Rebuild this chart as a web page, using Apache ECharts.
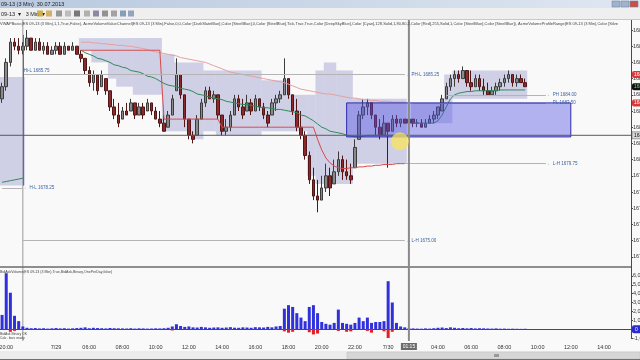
<!DOCTYPE html>
<html><head><meta charset="utf-8">
<script src="https://cdn.jsdelivr.net/npm/echarts@6/dist/echarts.min.js"></script>
<style>html,body{margin:0;padding:0;background:#f9f9f9}#c{width:640px;height:360px}</style>
</head><body><div id="c"></div><script>
const FF = 'Liberation Sans, Arial, sans-serif';
const nBars = 152;
// x-axis tick labels (bar index -> text)
const tickIdx  = [1, 13, 21, 29, 37, 45, 53, 61, 69, 77, 85, 93, 105, 113, 121, 129, 137, 145];
const tickText = ['20:00','7/29','06:00','08:00','10:00','12:00','14:00','16:00','18:00','20:00','22:00','7/30','04:00','06:00','08:00','10:00','12:00','14:00'];
// OHLC candles: [open, close, low, high]
const candles = [
[1683.75,1684.5,1683.5,1684.75],[1684.5,1686.0,1684.25,1686.25],[1686.0,1687.25,1685.75,1687.5],[1687.25,1687.0,1686.75,1687.5],
[1687.0,1686.75,1686.5,1687.5],[1686.75,1687.0,1686.5,1687.25],[1687.0,1687.5,1686.75,1688.0],[1687.5,1686.75,1686.75,1687.5],
[1686.75,1687.25,1686.75,1687.5],[1687.25,1686.75,1686.75,1687.5],[1686.75,1687.0,1686.5,1687.25],[1687.0,1686.5,1686.5,1687.25],
[1686.5,1686.75,1686.5,1687.0],[1686.75,1687.0,1686.5,1687.25],[1687.0,1686.5,1686.5,1687.25],[1686.5,1687.0,1686.5,1687.25],
[1687.0,1686.75,1686.75,1687.0],[1686.75,1687.0,1686.75,1687.25],[1687.0,1686.5,1686.5,1687.0],[1686.5,1686.25,1686.0,1686.75],
[1686.25,1685.5,1685.25,1686.25],[1685.5,1684.75,1684.5,1685.75],[1684.75,1685.25,1684.25,1685.5],[1685.25,1684.25,1684.0,1685.25],
[1684.5,1685.25,1684.5,1685.5],[1685.0,1684.25,1684.0,1685.0],[1684.25,1683.25,1683.0,1684.25],[1683.25,1682.75,1682.5,1683.75],
[1682.75,1682.25,1682.0,1683.5],[1682.5,1683.0,1682.5,1683.25],[1683.0,1682.75,1682.75,1683.5],[1683.0,1683.5,1683.0,1683.75],
[1683.5,1682.75,1682.5,1683.5],[1682.75,1683.25,1682.75,1683.5],[1683.25,1682.75,1682.5,1683.5],[1683.0,1683.5,1683.0,1683.75],
[1683.5,1683.0,1682.75,1683.5],[1683.0,1682.5,1682.5,1683.25],[1682.5,1682.25,1682.0,1683.0],[1682.25,1681.75,1681.75,1682.75],
[1682.0,1682.75,1682.0,1683.0],[1682.75,1683.75,1682.75,1684.0],[1684.25,1685.25,1684.25,1686.25],[1685.25,1684.0,1683.75,1685.25],
[1684.0,1682.5,1682.0,1684.0],[1682.5,1681.5,1681.25,1682.5],[1681.5,1681.25,1681.0,1681.75],[1681.5,1682.5,1681.5,1682.75],
[1682.5,1683.5,1682.5,1683.75],[1683.5,1684.25,1683.25,1684.5],[1684.25,1683.75,1683.75,1684.5],[1683.75,1684.0,1683.5,1684.25],
[1684.0,1682.75,1682.5,1684.0],[1682.75,1681.75,1681.5,1682.75],[1681.75,1682.0,1681.5,1682.5],[1682.0,1682.75,1681.75,1683.0],
[1682.75,1683.75,1682.75,1684.0],[1683.75,1683.25,1683.0,1684.0],[1683.25,1682.75,1682.5,1683.75],[1683.0,1683.5,1683.0,1684.0],
[1683.5,1683.0,1682.75,1683.75],[1683.0,1683.75,1683.0,1684.0],[1683.75,1683.25,1683.0,1683.75],[1683.25,1682.75,1682.5,1683.5],
[1682.75,1682.25,1682.0,1683.0],[1682.75,1683.5,1682.75,1683.75],[1683.5,1683.75,1683.0,1684.0],[1683.75,1684.0,1683.5,1684.25],
[1684.0,1685.0,1684.0,1686.25],[1685.0,1684.0,1683.75,1685.0],[1684.0,1683.0,1682.75,1684.0],[1683.0,1682.0,1681.75,1683.75],
[1682.0,1681.5,1681.25,1683.0],[1681.5,1680.25,1680.0,1681.75],[1680.25,1678.75,1678.5,1680.5],[1678.75,1677.75,1677.5,1679.5],
[1677.75,1677.5,1676.75,1678.75],[1677.5,1678.25,1677.5,1679.0],[1678.25,1679.0,1678.0,1679.75],[1679.0,1678.25,1677.75,1679.5],
[1678.5,1679.25,1678.5,1680.0],[1679.25,1680.0,1679.0,1680.5],[1680.0,1679.25,1678.75,1680.25],[1679.25,1679.0,1678.75,1680.0],
[1679.0,1678.75,1678.5,1679.75],[1679.5,1680.75,1679.5,1681.25],[1681.25,1682.75,1681.25,1683.0],[1682.75,1683.25,1682.5,1683.75],
[1683.25,1683.5,1682.75,1683.75],[1683.5,1682.75,1682.5,1683.5],[1682.75,1682.0,1681.5,1682.75],[1682.0,1681.5,1681.25,1682.5],
[1681.5,1682.25,1681.5,1682.75],[1682.25,1681.75,1679.5,1682.25],[1681.75,1682.5,1681.75,1682.75],[1682.5,1682.25,1682.0,1682.75],
[1682.25,1682.5,1682.0,1682.5],[1682.5,1682.25,1682.25,1682.5],[1682.25,1682.5,1682.0,1682.5],[1682.5,1682.25,1682.0,1682.5],
[1682.25,1682.25,1682.0,1682.5],[1682.25,1682.0,1682.0,1682.5],[1682.0,1682.25,1682.0,1682.5],[1682.25,1682.5,1682.25,1682.75],
[1682.5,1682.75,1682.25,1683.0],[1682.75,1683.25,1682.5,1683.25],[1683.0,1683.75,1683.0,1684.0],[1683.75,1684.5,1683.75,1684.75],
[1684.5,1685.0,1684.25,1685.25],[1685.0,1685.25,1684.5,1685.5],[1685.25,1685.0,1684.75,1685.5],[1685.0,1685.5,1685.0,1685.75],
[1685.5,1684.75,1684.5,1685.5],[1684.75,1684.5,1684.25,1685.5],[1684.5,1685.0,1684.5,1685.25],[1685.0,1684.5,1684.25,1685.25],
[1684.5,1684.25,1684.0,1685.0],[1684.25,1684.0,1684.0,1684.75],[1684.0,1684.25,1684.0,1684.5],[1684.25,1684.5,1684.0,1684.75],
[1684.5,1684.75,1684.25,1685.0],[1684.75,1685.0,1684.5,1685.25],[1685.0,1685.25,1684.75,1685.5],[1685.25,1684.75,1684.5,1685.25],
[1684.75,1685.0,1684.5,1685.25],[1685.0,1684.75,1684.75,1685.25],[1684.75,1684.5,1684.5,1685.0]
];
// VWAP (green), upper band (pink), lower step (red)
const vwap = [1678.6,1678.65,1678.7,1678.75,1678.8,1678.85,
'-','-','-','-','-','-','-','-','-','-','-','-','-',
1686.75,1686.6,1686.5,1686.4,1686.25,1686.2,1686.1,1686.0,1685.85,1685.8,1685.7,1685.65,1685.5,1685.45,1685.4,1685.3,1685.15,1685.1,1685.0,1684.85,
1684.7,1684.6,1684.55,1684.5,1684.4,1684.35,1684.3,1684.2,1684.05,1684.0,1683.95,1683.85,1683.8,1683.75,1683.7,
1683.6,1683.55,1683.5,1683.45,1683.4,1683.4,1683.35,1683.3,
1683.25,1683.2,1683.2,1683.15,1683.1,1683.1,1683.05,1683.0,
1682.95,1682.9,1682.75,1682.7,1682.55,1682.4,1682.2,1682.0,1681.9,1681.75,1681.7,1681.65,1681.6,1681.5,1681.45,1681.4,
1681.4,1681.45,1681.5,1681.5,1681.5,1681.5,1681.5,1681.5,1681.5,1681.5,1681.55,1681.55,
'-',
1682.25,1682.25,1682.25,1682.25,1682.25,1682.25,
1682.4,1682.75,1683.25,1683.75,1684.0,1684.1,1684.15,1684.2,1684.2,1684.25,1684.25,1684.25,1684.25,1684.25,1684.25,1684.3,1684.3,1684.3,1684.3,1684.3,1684.3,1684.3];
const upperBand = ['-','-','-','-','-','-','-','-','-','-','-','-','-','-','-','-','-','-','-',
1687.25,1687.25,1687.25,1687.2,1687.2,1687.15,1687.15,1687.1,1687.1,1687.05,1687.05,1687.0,1687.0,1686.95,1686.9,1686.85,1686.8,1686.7,1686.65,1686.6,
1686.55,1686.5,1686.45,1686.4,1686.3,1686.25,1686.2,1686.15,1686.1,1686.05,1686.0,1685.9,1685.8,1685.7,1685.6,1685.5,1685.4,1685.35,1685.3,1685.25,
1685.2,1685.15,1685.1,1685.05,1685.0,1684.95,1684.9,1684.85,1684.8,1684.75,1684.65,1684.55,1684.45,1684.35,1684.3,1684.25,1684.2,1684.15,1684.1,1684.05,
1684.05,1684.0,1683.95,1683.9,1683.85,1683.8,1683.8,1683.75,1683.7,1683.7,1683.65,1683.65,1683.6,1683.6,1683.6,1683.55,1683.55,1683.55,1683.55];
const lowerStep = ['-','-','-','-','-','-','-','-','-','-','-','-','-','-','-','-','-','-','-',
1686.75,1686.75,1686.75,1686.75,1686.75,1686.75,1686.75,1686.75,1686.75,1686.75,1686.75,1686.75,1686.75,1686.75,1686.75,1686.75,1686.75,1686.75,1686.75,1686.75,
1682.5,1682.5,1682.5,1682.5,1682.5,1682.5,1682.5,1682.5,1682.5,1682.5,1682.5,1682.5,1682.5,1682.5,
1682.0,1682.0,1682.0,1682.0,1682.0,1682.0,1682.0,1682.0,1682.0,1682.0,1682.0,1682.0,1682.0,1682.0,1682.0,1682.0,1682.0,1682.0,1682.0,1682.0,1682.0,1682.0,1682.0,
1681.25,1680.6,1680.1,1679.8,1679.6,1679.5,1679.45,1679.45,1679.5,1679.5,1679.55,1679.55,1679.6,1679.6,1679.65,1679.65,1679.7,1679.7,1679.7,1679.75,1679.75,1679.75];
// value-area bands: start bar, end bar, high, low
const vaStart = [0, 19, 22, 26, 28, 32, 39, 42, 46, 49, 52, 63, 70, 74, 76, 78, 81, 85, 99, 107, 109];
const vaEnd   = [5, 21, 25, 27, 31, 38, 41, 45, 48, 51, 62, 69, 73, 75, 77, 80, 84, 97, 106, 108, 126];
const vaHigh  = [1685.1,1687.5,1687.5,1687.5,1687.5,1687.5,1686.5,1686.0,1686.0,1685.5,1685.5,1684.9,1684.0,1684.0,1685.5,1686.0,1685.5,1683.75,1683.5,1685.25,1685.5];
const vaLow   = [1678.4,1686.75,1686.0,1685.0,1684.5,1684.0,1681.75,1681.75,1681.25,1681.75,1681.5,1681.75,1681.75,1679.0,1678.5,1678.5,1678.5,1679.75,1682.25,1682.25,1683.75];
// drawn rectangle (bar from, bar to, top price, bottom price)
const boxFrom = 83, boxTo = 137, boxTop = 1683.5, boxBottom = 1681.4;
// horizontal levels
const levelStart = [5, 99, 107, 97, 0, 5, 5];
const levelEnd   = [97, 131, 131, 131, 5, 97, 97];
const levelPrice = [1685.25, 1683.5, 1684.0, 1679.75, 1678.25, 1675.0, 1685.25];
const levelText  = ['← PH-L 1685.25','← PL 1683.50','← PH 1684.00','← L-H 1679.75','← H-L 1678.25','← L-H 1675.00','Hi-L 1685.75'];
const levelPos   = ['end','end','end','end','end','end','insideStartTop'];
// volume (bid/ask)
const buyVol = [1600,6300,4100,1500,900,300,150,100,120,80,100,60,90,120,80,100,60,90,120,150,
200,100,150,120,100,80,130,100,90,80,70,100,60,90,80,60,70,90,80,100,
150,300,550,350,250,300,200,180,250,200,150,180,200,150,180,220,160,150,200,180,
150,220,200,180,250,200,300,350,2300,2700,2500,1800,1300,900,2500,2700,1800,800,600,500,
700,2200,700,600,500,700,1300,900,1300,700,800,800,900,5400,3000,700,300,200,100,80,
60,50,80,60,100,150,180,120,200,150,100,130,90,120,80,100,90,70,60,80,50,60,40,50,40,30,40];
const sellIdx = [2, 3, 41, 55, 66, 68, 69, 70, 74, 75, 76, 81, 83, 84, 88, 89, 92, 93, 94];
const sellVal = [-300,-200,-150,-100,-100,-250,-400,-300,-350,-600,-500,-200,-300,-250,-200,-400,-250,-1000,-300];
// crosshair
const crossIdx = 98, crossPrice = 1681.5, crossTime = '01:15';
// right-axis price markers
const markerPrice = [1685.25, 1684.5, 1683.5];
const markerColor = ['#d83a3a', '#111111', '#d83a3a'];
const markerText  = ['#ffffff', '#6fe06f', '#ffffff'];

const cats = []; for (let i = 0; i < nBars; i++) cats.push(String(i));
const tickMap = {}; tickIdx.forEach((k, j) => tickMap[k] = tickText[j]);
const tickSet = new Set(tickIdx);
const sellVol = cats.map(() => '-'); sellIdx.forEach((k, j) => sellVol[k] = sellVal[j]);
const vaData = vaStart.map((s, k) => [s, vaEnd[k], vaHigh[k], vaLow[k]]);
const levelLines = levelStart.map((s, k) => [
  {coord: [s, levelPrice[k]], name: levelText[k], label: {position: levelPos[k]}},
  {coord: [levelEnd[k], levelPrice[k]]}
]);

const chart = echarts.init(document.getElementById('c'));
const option = {
  animation: false,
  backgroundColor: '#f9f9f9',
  textStyle: {fontFamily: FF},
  grid: [
    {left: 0, right: 9, top: 13.8, height: 259.2, outerBoundsMode: 'none', containLabel: false},
    {left: 0, right: 9, top: 267, height: 71, outerBoundsMode: 'none', containLabel: false}
  ],
  xAxis: [
    {type: 'category', gridIndex: 0, data: cats, boundaryGap: true, show: false},
    {type: 'category', gridIndex: 1, data: cats, boundaryGap: true, offset: 3,
     axisLine: {lineStyle: {color: '#4a4a4a'}},
     axisTick: {interval: (i) => tickSet.has(i), alignWithLabel: true, length: 2, lineStyle: {color: '#4a4a4a'}},
     axisLabel: {interval: (i) => tickSet.has(i), formatter: (v, i) => tickMap[i] || '', fontSize: 5.5, color: '#333', margin: 3},
     splitLine: {show: false}}
  ],
  yAxis: [
    {type: 'value', gridIndex: 0, position: 'right', min: 1673, max: 1689, interval: 1,
     axisLine: {show: true, lineStyle: {color: '#4a4a4a'}}, axisTick: {show: true, length: 2, lineStyle: {color: '#4a4a4a'}},
     axisLabel: {fontSize: 5.5, color: '#333', margin: 2, showMinLabel: false, showMaxLabel: false, formatter: v => v.toFixed(2)},
     splitLine: {show: false}},
    {type: 'value', gridIndex: 1, position: 'right', min: -1000, max: 7000, interval: 1000,
     axisLine: {show: true, lineStyle: {color: '#4a4a4a'}}, axisTick: {show: true, length: 2, lineStyle: {color: '#4a4a4a'}},
     axisLabel: {fontSize: 5.5, color: '#333', margin: 2, showMaxLabel: false},
     splitLine: {show: false}}
  ],
  series: [
    {type: 'custom', name: 'valueArea', xAxisIndex: 0, yAxisIndex: 0, z: 1, data: vaData,
     encode: {x: [0, 1], y: [2, 3]},
     renderItem: (params, api) => {
       const a = api.coord([api.value(0), api.value(2)]);
       const b = api.coord([api.value(1), api.value(3)]);
       const w = api.size([1, 0])[0];
       return {type: 'rect', shape: {x: a[0] - w / 2, y: a[1], width: b[0] - a[0] + w, height: b[1] - a[1]},
               style: {fill: 'rgba(150,150,205,0.42)'}};
     }},
    {type: 'candlestick', name: 'ES', xAxisIndex: 0, yAxisIndex: 0, z: 3, data: candles, barWidth: 3,
     itemStyle: {color: '#8a8a8a', color0: '#8b2a2a', borderColor: '#3c3c3c', borderColor0: '#521616', borderWidth: 1}},
    {type: 'line', name: 'VWAP', xAxisIndex: 0, yAxisIndex: 0, z: 4, data: vwap, symbol: 'none',
     lineStyle: {color: '#2e8b57', width: 1}},
    {type: 'line', name: 'upper', xAxisIndex: 0, yAxisIndex: 0, z: 4, data: upperBand, symbol: 'none',
     lineStyle: {color: '#e6a0a0', width: 1}},
    {type: 'line', name: 'lower', xAxisIndex: 0, yAxisIndex: 0, z: 4, data: lowerStep, symbol: 'none',
     lineStyle: {color: '#d84a4a', width: 1}},
    {type: 'line', name: 'levels', xAxisIndex: 0, yAxisIndex: 0, z: 4, data: [],
     markLine: {silent: true, symbol: 'none', animation: false,
       lineStyle: {color: '#b4b4b4', width: 1, type: 'solid'},
       label: {formatter: '{b}', fontSize: 4.5, color: '#3a5fa0', distance: 1},
       data: levelLines.concat([[{coord: [5, 1687.7], lineStyle: {color: '#d84040'}, label: {show: false}}, {coord: [5, 1678.4]}]])}},
    {type: 'custom', name: 'box', xAxisIndex: 0, yAxisIndex: 0, z: 5, data: [[boxFrom, boxTo, boxTop, boxBottom]],
     encode: {x: [0, 1], y: [2, 3]},
     renderItem: (params, api) => {
       const a = api.coord([api.value(0), api.value(2)]);
       const b = api.coord([api.value(1), api.value(3)]);
       return {type: 'rect', shape: {x: a[0], y: a[1], width: b[0] - a[0], height: b[1] - a[1]},
               style: {fill: 'rgba(80,80,230,0.42)', stroke: '#2c2ca8', lineWidth: 1}};
     }},
    {type: 'bar', name: 'ask', xAxisIndex: 1, yAxisIndex: 1, data: buyVol, barWidth: 3, barGap: '-100%',
     itemStyle: {color: '#3030dc'}},
    {type: 'bar', name: 'bid', xAxisIndex: 1, yAxisIndex: 1, data: sellVol, barWidth: 3, barGap: '-100%',
     itemStyle: {color: '#e02020'}}
  ]
};
chart.setOption(option);

const P = (i, p) => chart.convertToPixel({gridIndex: 0}, [i, p]);
const V = (i, v) => chart.convertToPixel({gridIndex: 1}, [i, v]);
const cross = P(crossIdx, crossPrice);
const sessX = P(5, 1680)[0];
const vol0 = V(0, 0)[1];
const g = [];
// header
g.push({type: 'rect', z: 100, shape: {x: 0, y: 0, width: 640, height: 8},
  style: {fill: new echarts.graphic.LinearGradient(0, 0, 1, 0, [{offset: 0, color: '#b7c8df'}, {offset: 1, color: '#dfe7f1'}])}});
g.push({type: 'text', z: 101, style: {text: '09-13 (3 Min)  30.07.2013', x: 1, y: 4, fontSize: 5.5, fontFamily: FF, fill: '#1b1b1b', verticalAlign: 'middle'}});
[612, 621, 630].forEach((x, k) => g.push({type: 'rect', z: 101, shape: {x: x, y: 1, width: 8, height: 6},
  style: {fill: k === 2 ? '#c9504a' : '#9fb3cf', stroke: '#6d7f99', lineWidth: 0.5}}));
g.push({type: 'rect', z: 100, shape: {x: 0, y: 8, width: 640, height: 12}, style: {fill: '#efefef'}});
g.push({type: 'line', z: 101, shape: {x1: 0, y1: 19.5, x2: 640, y2: 19.5}, style: {stroke: '#c8c8c8', lineWidth: 1}});
g.push({type: 'text', z: 101, style: {text: '09-13  ▾   3 Min  ▾', x: 1, y: 14, fontSize: 5.5, fontFamily: FF, fill: '#222', verticalAlign: 'middle'}});
[[37,'#c8a020'],[46,'#d0a040'],[56,'#808080'],[65,'#b0b0b0'],[74,'#5a5a5a'],[84,'#a0a0a0'],[93,'#707090'],[102,'#7a7a7a'],[111,'#909090'],[120,'#6a8ab0'],[128,'#8090b0']].forEach(d =>
  g.push({type: 'rect', z: 101, shape: {x: d[0], y: 10.5, width: 6, height: 6}, style: {fill: d[1], opacity: 0.8}}));
g.push({type: 'text', z: 101, style: {text: 'VWAPBasic(ES 09-13 (3 Min),1,1,True,False), AcmeVolumeValueChannel(ES 09-13 (3 Min),False,0,0,Color [DarkSlateBlue],Color [SteelBlue],0,Color [SteelBlue],Tick,True,True,Color [DeepSkyBlue],Color [Cyan],128,Solid,1,80,80,2,Color [Red],255,Solid,1,Color [SteelBlue],Color [SteelBlue]), AcmeVolumeProfileRange(ES 09-13 (3 Min),Color [Silver],Color [DeepSkyBlue]',
  x: 0, y: 24, fontSize: 4, fontFamily: FF, fill: '#444', verticalAlign: 'middle', width: 620, overflow: 'truncate', ellipsis: ''}});
// panel separator, session line, crosshair
g.push({type: 'line', z: 6, shape: {x1: 0, y1: 267, x2: 631, y2: 267}, style: {stroke: '#6a6a6a', lineWidth: 1.5}});
g.push({type: 'line', z: 0, shape: {x1: sessX, y1: 20, x2: sessX, y2: 341}, style: {stroke: '#9a9a9a', lineWidth: 1}});
g.push({type: 'line', z: 50, shape: {x1: 0, y1: cross[1], x2: 631, y2: cross[1]}, style: {stroke: '#5a5a5a', lineWidth: 1}});
g.push({type: 'line', z: 50, shape: {x1: cross[0], y1: 20, x2: cross[0], y2: 341}, style: {stroke: '#8a8a8a', lineWidth: 2}});
g.push({type: 'circle', z: 60, shape: {cx: cross[0] - 9, cy: cross[1] + 6, r: 9}, style: {fill: 'rgba(250,228,90,0.75)'}});
// right-axis markers
markerPrice.forEach((p, k) => {
  const y = P(0, p)[1];
  g.push({type: 'rect', z: 70, shape: {x: 632, y: y - 3.5, width: 10, height: 7, r: 2}, style: {fill: markerColor[k]}});
  g.push({type: 'text', z: 71, style: {text: p.toFixed(2), x: 634, y: y, fontSize: 5, fontFamily: FF, fill: markerText[k], verticalAlign: 'middle'}});
});
g.push({type: 'rect', z: 70, shape: {x: 632, y: cross[1] - 3.5, width: 10, height: 7}, style: {fill: '#d8d8d8', stroke: '#555', lineWidth: 0.5}});
g.push({type: 'text', z: 71, style: {text: crossPrice.toFixed(2), x: 634, y: cross[1], fontSize: 5, fontFamily: FF, fill: '#111', verticalAlign: 'middle'}});
g.push({type: 'rect', z: 70, shape: {x: 632, y: vol0 - 4, width: 10, height: 8, r: 2}, style: {fill: '#2a2ad0'}});
g.push({type: 'text', z: 71, style: {text: '0', x: 635, y: vol0, fontSize: 5, fontFamily: FF, fill: '#fff', verticalAlign: 'middle'}});
// crosshair time label
g.push({type: 'rect', z: 70, shape: {x: cross[0] - 8, y: 343, width: 16, height: 7}, style: {fill: '#6a6a6a'}});
g.push({type: 'text', z: 71, style: {text: crossTime, x: cross[0], y: 346.5, fontSize: 5, fontFamily: FF, fill: '#fff', align: 'center', verticalAlign: 'middle'}});
// volume panel texts
g.push({type: 'text', z: 20, style: {text: 'BidAskVolume(ES 09-13 (3 Min),True,BidAsk,Binary,OnePerDay,false)', x: 0, y: 272, fontSize: 3.6, fontFamily: FF, fill: '#444', verticalAlign: 'middle'}});
g.push({type: 'text', z: 20, style: {text: 'BidAsk Binary OK\nCalc. bars ready', x: 0, y: 336, fontSize: 3.4, fontFamily: FF, fill: '#444', verticalAlign: 'middle', lineHeight: 3.6}});
// scrollbar
g.push({type: 'rect', z: 30, shape: {x: 0, y: 351, width: 640, height: 9}, style: {fill: '#ececec'}});
g.push({type: 'rect', z: 31, shape: {x: 347, y: 352, width: 293, height: 7}, style: {fill: '#d6d6d6', stroke: '#bcbcbc', lineWidth: 0.5}});
g.push({type: 'rect', z: 32, shape: {x: 494, y: 354, width: 5, height: 3}, style: {fill: '#9a9a9a'}});
g.push({type: 'line', z: 32, shape: {x1: 0, y1: 359.5, x2: 640, y2: 359.5}, style: {stroke: '#707070', lineWidth: 1}});
chart.setOption({graphic: g});
</script></body></html>
